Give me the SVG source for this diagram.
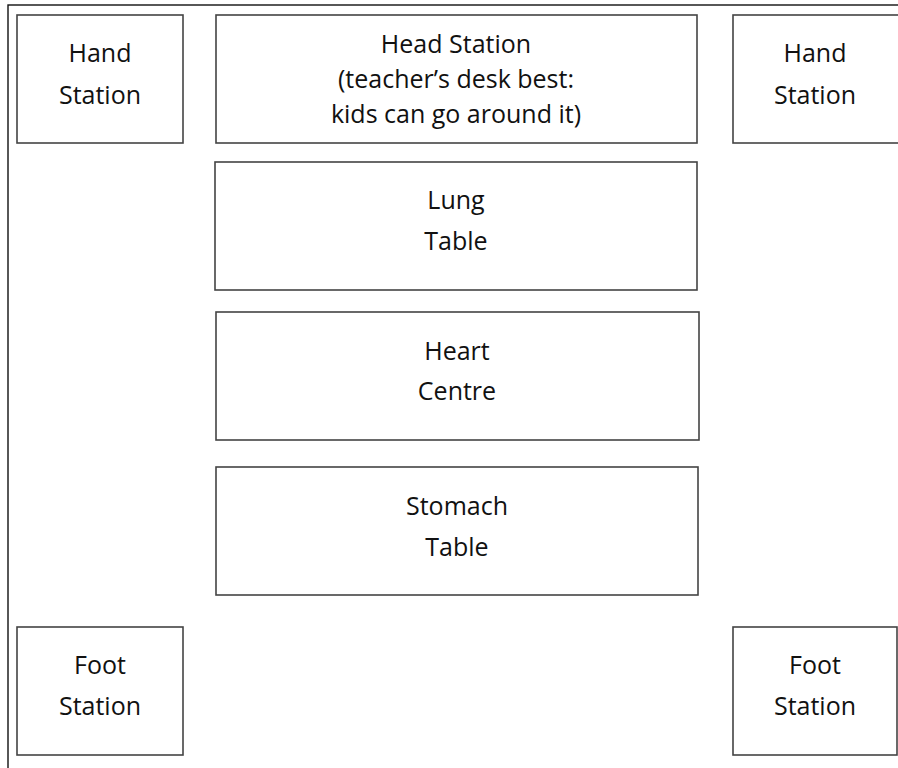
<svg xmlns="http://www.w3.org/2000/svg" width="898" height="768" viewBox="0 0 898 768">
<style>
.box{fill:#fff;stroke:#444;stroke-width:1.6}
.frame{fill:none;stroke:#111;stroke-width:1.4}
text{font-family:"Open Sans","Noto Sans",sans-serif;font-size:25px;fill:#111;text-anchor:middle}
</style>
<rect width="898" height="768" fill="#fff"/>
<rect class="frame" x="8" y="5" width="900" height="770"/>
<g id="hand-left"><rect class="box" x="17" y="15" width="166" height="128"/><text x="100" y="62">Hand</text><text x="100" y="104">Station</text></g>
<g id="head"><rect class="box" x="216" y="15" width="481" height="128"/><text x="456" y="53">Head Station</text><text x="456" y="88">(teacher’s desk best:</text><text x="456" y="123">kids can go around it)</text></g>
<g id="hand-right"><rect class="box" x="733" y="15" width="170" height="128"/><text x="815" y="62">Hand</text><text x="815" y="104">Station</text></g>
<g id="lung"><rect class="box" x="215" y="162" width="482" height="128"/><text x="456" y="209">Lung</text><text x="456" y="250">Table</text></g>
<g id="heart"><rect class="box" x="216" y="312" width="483" height="128"/><text x="457" y="360">Heart</text><text x="457" y="400">Centre</text></g>
<g id="stomach"><rect class="box" x="216" y="467" width="482" height="128"/><text x="457" y="515">Stomach</text><text x="457" y="556">Table</text></g>
<g id="foot-left"><rect class="box" x="17" y="627" width="166" height="128"/><text x="100" y="674">Foot</text><text x="100" y="715">Station</text></g>
<g id="foot-right"><rect class="box" x="733" y="627" width="164" height="128"/><text x="815" y="674">Foot</text><text x="815" y="715">Station</text></g>
<g id="connectors"/>
</svg>
